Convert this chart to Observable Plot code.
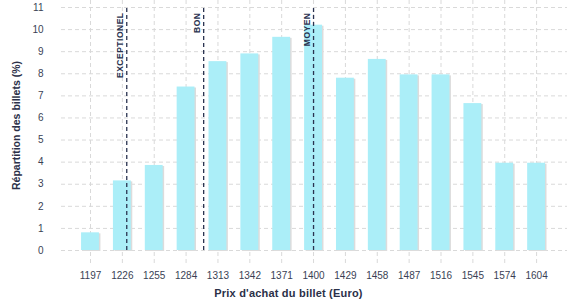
<!DOCTYPE html>
<html>
<head>
<meta charset="utf-8">
<script src="https://cdn.jsdelivr.net/npm/d3@7"></script>
<script src="https://cdn.jsdelivr.net/npm/@observablehq/plot@0.6"></script>
<style>
  body { margin: 0; background: #fff; font-family: "Liberation Sans", Arial, sans-serif; }
  #chart { width: 577px; }
  #xtitle { width: 577px; text-align: center; font-weight: bold; font-size: 11px; color: #2b3048; margin-top: 2px; line-height: 14px; letter-spacing: 0.2px; }
</style>
</head>
<body>
<div id="chart"></div>
<div id="xtitle">Prix d'achat du billet (Euro)</div>
<script>
const prices = [1197, 1226, 1255, 1284, 1313, 1342, 1371, 1400, 1429, 1458, 1487, 1516, 1545, 1574, 1604];
const shares = [0.8, 3.15, 3.85, 7.4, 8.55, 8.9, 9.65, 10.2, 7.8, 8.65, 7.95, 7.95, 6.65, 3.95, 3.95];
const markerLabels = ["EXCEPTIONEL", "BON", "MOYEN"];
const markerPrices = [1230, 1300, 1400];
const yTicks = [0, 1, 2, 3, 4, 5, 6, 7, 8, 9, 10, 11];
const yTitle = "Répartition des billets (%)";

const idx = prices.map((p, i) => i);
const priceToIndex = d3.scaleLinear().domain(prices).range(idx);
const bars = prices.map((p, i) => ({i, price: p, share: shares[i]}));
const markers = markerLabels.map((l, k) => ({label: l, pos: priceToIndex(markerPrices[k])}));

const textColor = "#2b3048";
const tickColor = "#3a3f55";
const plot = Plot.plot({
  width: 577,
  height: 284,
  marginLeft: 61,
  marginRight: 10,
  marginTop: 0,
  marginBottom: 34,
  style: {fontFamily: "'Liberation Sans', Arial, sans-serif", fontSize: "10px", color: textColor},
  x: {type: "linear", domain: [-0.91, 14.97]},
  y: {domain: [0, 11.317]},
  marks: [
    Plot.gridY(yTicks, {stroke: "#d9d9d9", strokeOpacity: 1, strokeDasharray: "4,3"}),
    Plot.ruleX(idx, {x: d => d, stroke: "#d9d9d9", strokeDasharray: "4,3", insetBottom: -13}),
    Plot.axisY(yTicks, {tickSize: 0, tickPadding: 18, label: yTitle, labelAnchor: "center", labelArrow: "none", labelOffset: 49, fontSize: 10, color: tickColor}),
    Plot.axisX(idx, {tickSize: 0, tickPadding: 21, tickFormat: i => String(prices[i]), label: null, fontSize: 10, color: tickColor}),
    Plot.rectY(bars, {x1: d => d.i - 0.5, x2: d => d.i + 0.5, y: "share", insetLeft: 7, insetRight: 7, fill: "#dcdcdc", dx: 1.5, dy: 1}),
    Plot.rectY(bars, {x1: d => d.i - 0.5, x2: d => d.i + 0.5, y: "share", insetLeft: 7, insetRight: 7, fill: "#abeef8"}),
    Plot.ruleX(markers, {x: "pos", y1: 0, y2: 11, stroke: "#2a3350", strokeWidth: 1.3, strokeDasharray: "4,3"}),
    Plot.text(markers, {x: "pos", y: 11, text: "label", rotate: -90, textAnchor: "end", dx: -6, dy: 5, fontSize: 8.5, fontWeight: "bold", fill: "#2a3350", className: "mlabels"})
  ]
});
document.getElementById("chart").append(plot);
plot.querySelectorAll("[aria-label='y-axis label'] text, [aria-label='y-axis label']").forEach(e => { e.style.fontWeight = "bold"; e.style.fontSize = "10.5px"; e.style.fill = textColor; });
plot.querySelectorAll(".mlabels text").forEach(e => { e.style.letterSpacing = "0.5px"; });
</script>
</body>
</html>
